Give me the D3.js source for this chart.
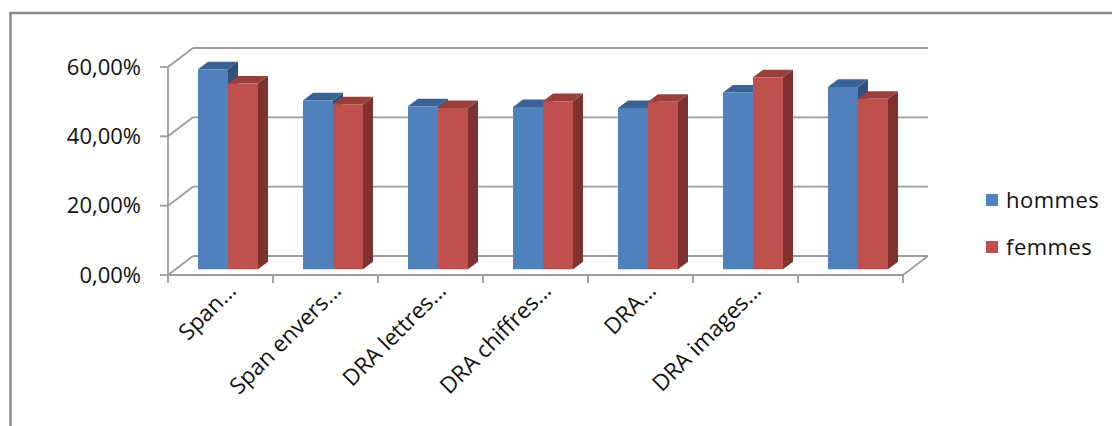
<!DOCTYPE html>
<html>
<head>
<meta charset="utf-8">
<script src="https://cdn.jsdelivr.net/npm/d3@7"></script>
<style>
  body { margin: 0; background: #fff; }
  text { font-family: "Open Sans", sans-serif; fill: #111; }
</style>
</head>
<body>
<svg id="chart"></svg>
<script>
const categories = ["Span...", "Span envers...", "DRA lettres...", "DRA chiffres...", "DRA...", "DRA images...", ""];
const hommes = [0.577, 0.487, 0.470, 0.468, 0.465, 0.510, 0.526];
const femmes = [0.536, 0.476, 0.465, 0.485, 0.483, 0.554, 0.492];
const yTicks = [0, 0.2, 0.4, 0.6];
const seriesNames = ["hommes", "femmes"];

const W = 1112, H = 426;
const svg = d3.select("#chart").attr("width", W).attr("height", H);

// outer frame (only top/left visible)
svg.append("path")
  .attr("d", `M10.5,${H} V13 H${W}`)
  .attr("fill", "none")
  .attr("stroke", "#888")
  .attr("stroke-width", 2.5);

// 3D projection: depth z in [0,1]
const depthX = 25, depthY = 19;
const x = d3.scaleBand().domain(d3.range(categories.length)).range([168, 903]);
const y = d3.scaleLinear().domain([0, 0.6]).range([275, 67]);
const proj = (px, v, z) => [px + z * depthX, y(v) - z * depthY];
const x0 = x.range()[0], x1 = x.range()[1];

const grid = svg.append("g").attr("stroke", "#9c9c9c").attr("stroke-width", 1.8).attr("fill", "none");
const seg = (a, b) => grid.append("line").attr("x1", a[0]).attr("y1", a[1]).attr("x2", b[0]).attr("y2", b[1]);

yTicks.forEach(v => {
  seg(proj(x0, v, 1), proj(x1, v, 1));   // back wall
  seg(proj(x0, v, 0), proj(x0, v, 1));   // side wall
  seg([x0 - 8, y(v)], [x0, y(v)]);        // tick
});
seg(proj(x0, 0, 0), proj(x0, 0.6, 0));   // vertical axis
seg(proj(x0, 0, 0), proj(x1, 0, 0));     // front floor edge
seg(proj(x1, 0, 0), proj(x1, 0, 1));     // right floor edge
d3.range(categories.length + 1).forEach(i => {
  const px = x0 + i * x.bandwidth();
  seg([px, y(0)], [px, y(0) + 8]);
});

// y labels
svg.append("g").selectAll("text").data(yTicks).join("text")
  .attr("x", 141)
  .attr("y", d => y(d))
  .attr("dy", "0.35em")
  .attr("text-anchor", "end")
  .attr("font-size", 22)
  .text(d => d3.format(".2f")(d * 100).replace(".", ",") + "%");

// bars
const colors = [
  { front: "#4F81BD", top: "#3A6393", side: "#2F5179" },
  { front: "#C0504D", top: "#99403D", side: "#7E3230" }
];
const barW = 30, zA = 0.3, zB = 0.7;
const bars = svg.append("g");
categories.forEach((c, i) => {
  [hommes[i], femmes[i]].forEach((v, s) => {
    const left = x(i) + (x.bandwidth() - 2 * barW) / 2 + s * barW;
    const right = left + barW;
    const poly = pts => pts.map(p => p.join(",")).join(" ");
    const col = colors[s];
    // side
    bars.append("polygon")
      .attr("points", poly([proj(right, 0, zA), proj(right, v, zA), proj(right, v, zB), proj(right, 0, zB)]))
      .attr("fill", col.side);
    // top
    bars.append("polygon")
      .attr("points", poly([proj(left, v, zA), proj(right, v, zA), proj(right, v, zB), proj(left, v, zB)]))
      .attr("fill", col.top);
    // front
    bars.append("polygon")
      .attr("points", poly([proj(left, 0, zA), proj(right, 0, zA), proj(right, v, zA), proj(left, v, zA)]))
      .attr("fill", col.front);
  });
});

// category labels
svg.append("g").selectAll("text").data(categories).join("text")
  .attr("transform", (d, i) => `translate(${x(i) + x.bandwidth() / 2 + 17},${292}) rotate(-45)`)
  .attr("text-anchor", "end")
  .attr("font-size", 22.5)
  .text(d => d);

// legend
const legend = svg.append("g").attr("transform", "translate(986,0)");
seriesNames.forEach((n, i) => {
  const cy = 200 + i * 47;
  legend.append("rect").attr("x", 0).attr("y", cy - 6).attr("width", 12).attr("height", 12).attr("fill", colors[i].front);
  legend.append("text").attr("x", 20).attr("y", cy).attr("dy", "0.35em").attr("font-size", 22).attr("letter-spacing", 0.5).text(n);
});
</script>
</body>
</html>
